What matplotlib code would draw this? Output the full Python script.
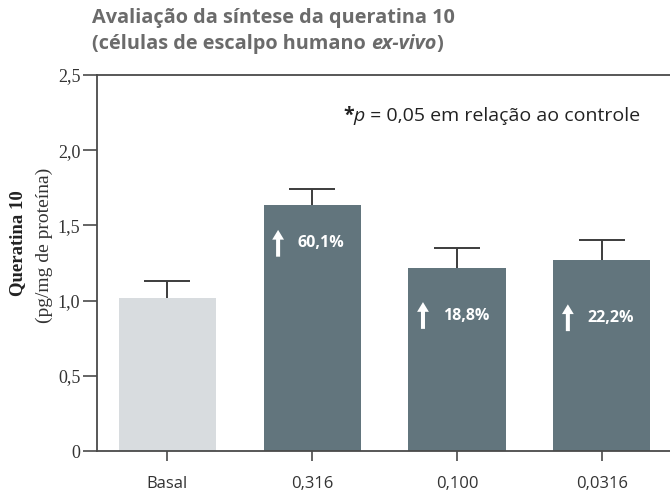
import matplotlib
matplotlib.use("Agg")
import matplotlib.pyplot as plt
import numpy as np

categories = ["Basal", "0,316", "0,100", "0,0316"]
values = [1.02, 1.635, 1.217, 1.27]
errors = [0.11, 0.105, 0.135, 0.135]
pct_labels = [None, "60,1%", "18,8%", "22,2%"]
yticks = [0, 0.5, 1.0, 1.5, 2.0, 2.5]
ytick_labels = ["0", "0,5", "1,0", "1,5", "2,0", "2,5"]

# styling
label_y = [None, 1.38, 0.90, 0.885]
bar_colors = ["#d8dcdf", "#62757d", "#62757d", "#62757d"]
axis_col = "#4a4a4a"
sans = ["Open Sans", "DejaVu Sans"]
title_font = ["Open Sans", "DejaVu Sans"]
serif = ["Liberation Serif", "DejaVu Serif"]

W, H = 670, 494
fig = plt.figure(figsize=(W/100, H/100), dpi=100)
ax = fig.add_axes([97/W, 43/H, 1 - 97/W, (451-75)/H])

x = np.arange(len(categories))
ax.bar(x, values, width=0.67, color=bar_colors, zorder=2)
tops = np.array(values) + np.array(errors)
ax.vlines(x, values, tops, color="#3c3c3c", lw=1.4, zorder=1)
ax.hlines(tops, x - 0.16, x + 0.16, color="#3c3c3c", lw=1.4, zorder=1)

ax.set_xlim(-0.485, 3.47)
ax.set_ylim(0, 2.5)
ax.set_yticks(yticks)
ax.set_yticklabels(ytick_labels, family=serif, fontsize=13, color="#333333")
ax.set_xticks(x)
ax.set_xticklabels(categories, family=sans, fontsize=12, color="#333333")
ax.tick_params(axis="y", direction="out", length=10, width=1.2, color=axis_col, pad=2)
ax.tick_params(axis="x", direction="out", length=7, width=1.2, color=axis_col, pad=11)
for s in ["left", "top", "bottom"]:
    ax.spines[s].set_color(axis_col)
    ax.spines[s].set_linewidth(1.3)
ax.spines["right"].set_visible(False)

for xi, lab, ly in zip(x, pct_labels, label_y):
    if lab is None:
        continue
    ax.annotate("", xy=(xi - 0.235, ly + 0.09), xytext=(xi - 0.235, ly - 0.088),
                arrowprops=dict(facecolor="white", edgecolor="none", width=2.9,
                                headwidth=8.5, headlength=7, shrink=0), zorder=3)
    ax.text(xi - 0.1, ly, lab, family=sans, fontweight="bold", fontsize=11.5,
            color="white", va="center", ha="left", zorder=3)

# y label
fig.text(18/W, 1 - 243/H, "Queratina 10", rotation=90, family=serif,
         fontweight="bold", fontsize=13.5, color="#222222", ha="center", va="center")
fig.text(44/W, 1 - 245/H, "(pg/mg de proteína)", rotation=90, family=serif,
         fontsize=14, color="#333333", ha="center", va="center")

# title
tc = "#6b6b6b"
fig.text(92/W, 1 - 18/H, "Avaliação da síntese da queratina 10", family=title_font,
         fontweight="bold", fontsize=14.3, color=tc, ha="left", va="center")
t2 = fig.text(92/W, 1 - 44/H, "(células de escalpo humano ", family=title_font,
              fontweight="bold", fontsize=14.3, color=tc, ha="left", va="center")

fig.canvas.draw()
r = fig.canvas.get_renderer()
bb = t2.get_window_extent(r)
t3 = fig.text(bb.x1 / W, 1 - 44/H, "ex-vivo", family=title_font, fontweight="bold",
              fontstyle="italic", fontsize=14.3, color=tc, ha="left", va="center")
bb3 = t3.get_window_extent(r)
fig.text(bb3.x1 / W, 1 - 44/H, ")", family=title_font, fontweight="bold",
         fontsize=14.3, color=tc, ha="left", va="center")

# p-value note (right aligned)
ny = 1 - 116/H
m = fig.text(640/W, ny, " = 0,05 em relação ao controle", family=sans,
             fontsize=14, color="#222222", ha="right", va="center")
bm = m.get_window_extent(r)
pt = fig.text(bm.x0 / W, ny, "p", family=sans, fontstyle="italic",
              fontsize=14, color="#222222", ha="right", va="center")
bp = pt.get_window_extent(r)
fig.text(bp.x0 / W, ny, "*", family=sans, fontweight="bold",
         fontsize=14, color="#222222", ha="right", va="center")

fig.savefig("out.png", dpi=100)
